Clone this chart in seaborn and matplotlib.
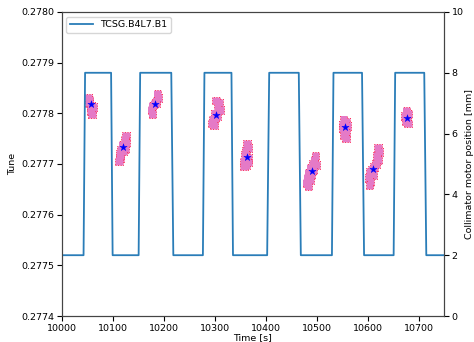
import matplotlib
matplotlib.use("Agg")
import matplotlib.pyplot as plt
import seaborn as sns
import pandas as pd

# Collimator jaw position (step programme)
motor_time = [10000, 10043, 10046, 10097, 10100, 10151, 10154, 10215, 10219,
              10277, 10280, 10333, 10336, 10403, 10407, 10465, 10469, 10530,
              10533, 10589, 10593, 10651, 10654, 10711, 10715, 10750]
motor_pos = [2, 2, 8, 8, 2, 2, 8, 8, 2,
             2, 8, 8, 2, 2, 8, 8, 2, 2,
             8, 8, 2, 2, 8, 8, 2, 2]

# Tune measurements, grouped by plateau
tune_time = [
    10052, 10055, 10053, 10058, 10060, 10057, 10059, 10055, 10061,
    10126, 10124, 10127, 10119, 10122, 10117, 10125, 10115, 10114, 10112, 10120,
    10188, 10189, 10186, 10182, 10178, 10176, 10178, 10185,
    10303, 10308, 10306, 10310, 10300, 10305, 10297, 10295, 10299, 10302,
    10364, 10366, 10362, 10360, 10365, 10358, 10366, 10362, 10357,
    10498, 10496, 10493, 10499, 10488, 10494, 10484, 10490, 10482, 10487, 10480, 10484, 10492,
    10553, 10557, 10551, 10560, 10555, 10558, 10554, 10557, 10552,
    10620, 10622, 10618, 10621, 10616, 10612, 10608, 10605, 10610, 10603, 10606, 10604,
    10676, 10680, 10673, 10678, 10675, 10679,
]
tune_value = [
    0.277830, 0.277826, 0.277820, 0.277815, 0.277810, 0.277804, 0.277799, 0.277822, 0.277812,
    0.277755, 0.277748, 0.277742, 0.277738, 0.277733, 0.277728, 0.277730, 0.277720, 0.277712, 0.277705, 0.277725,
    0.277838, 0.277830, 0.277824, 0.277818, 0.277814, 0.277806, 0.277799, 0.277820,
    0.277825, 0.277820, 0.277812, 0.277806, 0.277800, 0.277795, 0.277788, 0.277780, 0.277776, 0.277790,
    0.277739, 0.277732, 0.277726, 0.277718, 0.277712, 0.277705, 0.277703, 0.277697, 0.277695,
    0.277716, 0.277708, 0.277700, 0.277698, 0.277692, 0.277688, 0.277682, 0.277678, 0.277672, 0.277668, 0.277662, 0.277657, 0.277685,
    0.277788, 0.277783, 0.277778, 0.277775, 0.277768, 0.277762, 0.277756, 0.277750, 0.277771,
    0.277732, 0.277724, 0.277716, 0.277708, 0.277700, 0.277694, 0.277688, 0.277684, 0.277678, 0.277672, 0.277665, 0.277659,
    0.277804, 0.277799, 0.277795, 0.277790, 0.277784, 0.277780,
]

# Mean tune per plateau
mean_time = [10057, 10120, 10183, 10303, 10363, 10490, 10555, 10611, 10677]
mean_tune = [0.277818, 0.277733, 0.277818, 0.277796, 0.277714,
             0.277686, 0.277773, 0.277691, 0.277791]

left_ticks = [0.2774, 0.2775, 0.2776, 0.2777, 0.2778, 0.2779, 0.2780]
right_ticks = [0, 2, 4, 6, 8, 10]
x_ticks = [10000, 10100, 10200, 10300, 10400, 10500, 10600, 10700]

plt.rcParams["font.size"] = 6.8

fig = plt.figure(figsize=(4.74, 3.42), dpi=100)
ax = fig.add_axes([0.130, 0.076, 0.807, 0.889])

tune_df = pd.DataFrame({"t": tune_time, "q": tune_value})
mean_df = pd.DataFrame({"t": mean_time, "q": mean_tune})
motor_df = pd.DataFrame({"t": motor_time, "pos": motor_pos})

# measurement points: dotted red outline, solid pink body
sns.scatterplot(data=tune_df, x="t", y="q", ax=ax, marker="s", s=30,
                color="#e57ac6", edgecolor="#ff2a55", linewidth=0.7,
                linestyle=":", legend=False, zorder=3)
sns.scatterplot(data=tune_df, x="t", y="q", ax=ax, marker="s", s=20,
                color="#e57ac6", edgecolor="none", linewidth=0,
                legend=False, zorder=3.5)
sns.scatterplot(data=mean_df, x="t", y="q", ax=ax, marker="*", s=30,
                color="blue", edgecolor="blue", linewidth=0.3,
                legend=False, zorder=4)

ax.set_xlim(10000, 10750)
ax.set_ylim(0.2774, 0.2780)
ax.set_yticks(left_ticks)
ax.set_yticklabels([f"{v:.4f}" for v in left_ticks])
ax.set_xticks(x_ticks)
ax.tick_params(length=3.5, pad=2)
ax.set_xlabel("Time [s]", labelpad=0)
ax.set_ylabel("Tune", labelpad=3)

ax2 = ax.twinx()
sns.lineplot(data=motor_df, x="t", y="pos", ax=ax2, color="#2a7db8",
             linewidth=1.3, label="TCSG.B4L7.B1")
ax2.set_ylim(0, 10)
ax2.set_yticks(right_ticks)
ax2.set_xlim(10000, 10750)
ax2.tick_params(length=3.5, pad=2)
ax2.set_ylabel("Collimator motor position [mm]", labelpad=1)
ax2.legend(loc="upper left", fontsize=6.8, handlelength=2.4)

for a in (ax, ax2):
    for sp in a.spines.values():
        sp.set_color("#444444")

fig.savefig("out.png", dpi=100)
